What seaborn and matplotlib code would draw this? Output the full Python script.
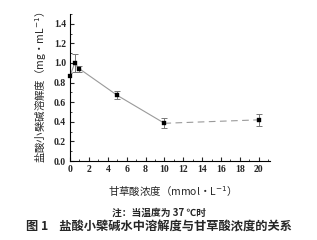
import matplotlib
matplotlib.use("Agg")
import matplotlib.pyplot as plt
import seaborn as sns
import pandas as pd
from matplotlib.ticker import MultipleLocator

sns.set_theme(style="ticks")
plt.rcParams['font.family'] = ['Liberation Serif', 'Noto Sans CJK SC', 'DejaVu Sans']

conc = [0, 0.5, 1, 5, 10, 20]
solubility = [0.87, 1.00, 0.94, 0.67, 0.385, 0.42]
err = [0.0, 0.09, 0.03, 0.04, 0.05, 0.06]

df = pd.DataFrame({"conc": conc, "sol": solubility, "err": err})

fig = plt.figure(figsize=(3.17, 2.40), dpi=100)
ax = fig.add_axes([0.221, 0.329, 0.631, 0.613])

solid = df.iloc[:5]
dashed = df.iloc[4:]
sns.lineplot(data=solid, x="conc", y="sol", ax=ax, color="#9a9a9a", lw=0.8, sort=False)
sns.lineplot(data=dashed, x="conc", y="sol", ax=ax, color="#9a9a9a", lw=0.8, linestyle=(0, (6, 4)))
ax.errorbar(df["conc"][1:], df["sol"][1:], yerr=df["err"][1:], fmt="none",
            ecolor="#777777", elinewidth=0.7, capsize=2, capthick=0.7)
sns.scatterplot(data=df.iloc[1:], x="conc", y="sol", ax=ax, marker="s", s=10,
                color="black", edgecolor="black", zorder=5)
sns.scatterplot(data=df.iloc[:1], x="conc", y="sol", ax=ax, marker="s", s=6,
                color="black", edgecolor="black", zorder=5, clip_on=False)

ax.set_xlim(0, 21.2)
ax.set_ylim(0, 1.5)
ax.set_xticks(range(0, 21, 2))
ax.set_yticks([0.0, 0.2, 0.4, 0.6, 0.8, 1.0, 1.2, 1.4])
ax.set_yticklabels(["0.0", "0.2", "0.4", "0.6", "0.8", "1.0", "1.2", "1.4"])
ax.xaxis.set_minor_locator(MultipleLocator(1))
ax.yaxis.set_minor_locator(MultipleLocator(0.1))
ax.tick_params(which="major", direction="in", length=3, width=0.8, labelsize=7, pad=3)
ax.tick_params(which="minor", direction="in", length=1.5, width=0.6)
for lab in ax.get_xticklabels() + ax.get_yticklabels():
    lab.set_fontweight("bold")
for side in ["top", "right"]:
    ax.spines[side].set_visible(False)
for side in ["left", "bottom"]:
    ax.spines[side].set_linewidth(0.8)
    ax.spines[side].set_color("black")

ax.set_xlabel("甘草酸浓度（mmol·L$^{-1}$）", fontsize=7.5, labelpad=7,
              family=['Noto Sans CJK SC', 'DejaVu Sans'])
ax.set_ylabel("盐酸小檗碱溶解度（mg·mL$^{-1}$）", fontsize=7.5, labelpad=3,
              family=['Noto Sans CJK SC', 'DejaVu Sans'])

fig.text(0.5, 0.115, "注：当温度为 37 ℃时", ha="center", va="center", fontsize=7,
         fontweight="bold", family=['Noto Sans CJK SC', 'DejaVu Sans'])
fig.text(0.5, 0.052, "图 1    盐酸小檗碱水中溶解度与甘草酸浓度的关系", ha="center", va="center",
         fontsize=8.8, fontweight="bold", family=['Noto Sans CJK SC', 'DejaVu Sans'])

fig.savefig("out.png", dpi=100)
